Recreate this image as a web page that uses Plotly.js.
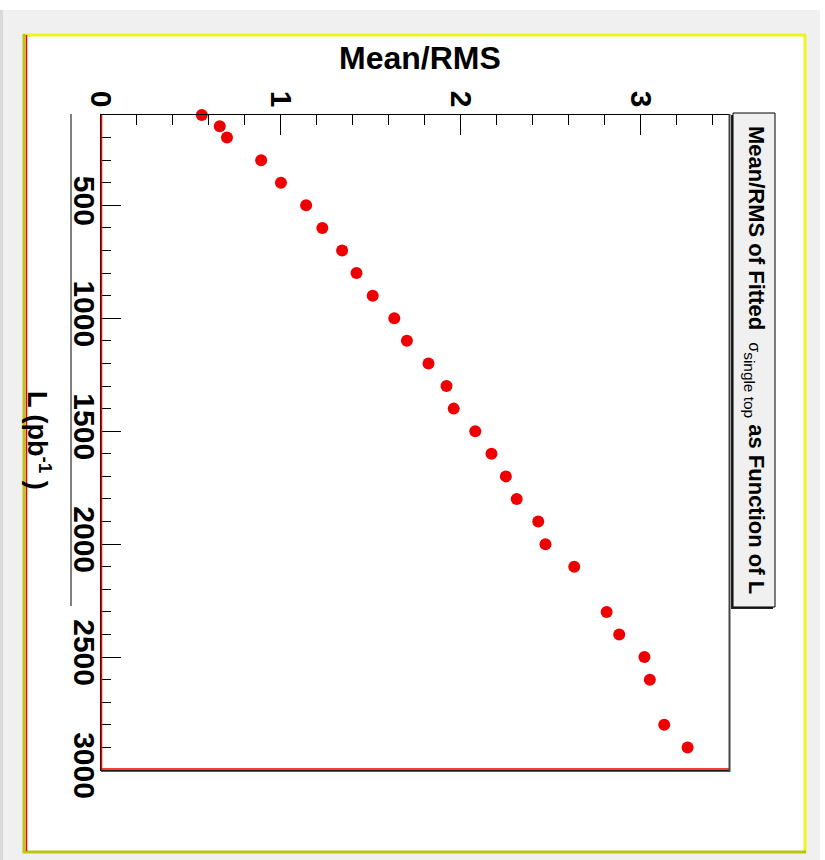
<!DOCTYPE html>
<html>
<head>
<meta charset="utf-8">
<script src="https://cdn.plot.ly/plotly-3.0.1.min.js"></script>
<style>
  html, body { margin: 0; padding: 0; background: #ffffff; }
  #chart { width: 825px; height: 860px; }
</style>
</head>
<body>
<div id="chart"></div>
<script>
// Integrated luminosity L (pb^-1) and the Mean/RMS of the fitted single-top cross section
const luminosity = [100, 150, 200, 300, 400, 500, 600, 700, 800, 900, 1000, 1100, 1200, 1300,
                    1400, 1500, 1600, 1700, 1800, 1900, 2000, 2100, 2300, 2400, 2500, 2600, 2800, 2900];
const meanOverRms = [0.56, 0.66, 0.70, 0.89, 1.00, 1.14, 1.23, 1.34, 1.42, 1.51, 1.63, 1.70, 1.82, 1.92,
                     1.96, 2.08, 2.17, 2.25, 2.31, 2.43, 2.47, 2.63, 2.81, 2.88, 3.02, 3.05, 3.13, 3.26];

const meanTicks = [0, 1, 2, 3];
const lumiTicks = [500, 1000, 1500, 2000, 2500, 3000];

// Canvas geometry (pixels) used for the frame decorations
const W = 825, H = 860;
const M = { l: 101, r: 96, t: 115, b: 90 };
const PW = W - M.l - M.r, PH = H - M.t - M.b;
const px = v => (v - M.l) / PW;          // page x pixel -> paper x
const py = v => (H - M.b - v) / PH;      // page y pixel -> paper y

const FONT = 'Liberation Sans, Arial, sans-serif';

function rect(x0, y0, x1, y1, fill, layer, line) {
  return { type: 'rect', xref: 'paper', yref: 'paper',
           x0: px(x0), x1: px(x1), y0: py(y1), y1: py(y0),
           fillcolor: fill, line: line || { width: 0 }, layer: layer || 'below' };
}
function seg(x0, y0, x1, y1, color, width, layer) {
  return { type: 'line', xref: 'paper', yref: 'paper',
           x0: px(x0), x1: px(x1), y0: py(y0), y1: py(y1),
           line: { color: color, width: width }, layer: layer || 'above' };
}

const shapes = [
  // window strips around the canvas
  rect(0, 0, W, 10, '#ffffff'),
  rect(820, 0, W, H, '#ffffff'),
  rect(0, 10, 3, H, '#d8d8d8'),
  // canvas with its bevelled yellow border
  rect(23, 34, 806, 853, '#ffffff'),
  seg(23, 35, 806, 35, '#eef51e', 3, 'below'),
  seg(805, 34, 805, 853, '#eef51e', 3, 'below'),
  seg(23, 852, 806, 852, '#b9c611', 3, 'below'),
  seg(24, 34, 24, 853, '#b9c611', 3, 'below'),
  seg(26.5, 35, 26.5, 851, '#ee0000', 1.5, 'below'),
  seg(71, 114, 71, 606, '#000000', 1, 'below'),
  // frame accents
  seg(101.5, 115, 101.5, 770, '#ee0000', 1.5),
  seg(101, 769, 729, 769, '#ee0000', 1.5),
  seg(101, 771, 730, 771, '#222222', 1.5),
  seg(729.5, 114, 729.5, 772, '#444444', 2),
  // title box with its shadow
  rect(731, 115, 773, 609, '#222222', 'above'),
  rect(733, 113, 775, 607, '#f0f0f0', 'above', { color: '#000000', width: 1 })
];

const annotations = [
  {
    xref: 'paper', yref: 'paper', x: px(755), y: py(360),
    xanchor: 'center', yanchor: 'middle', showarrow: false, textangle: 90,
    text: '<b>Mean/RMS of Fitted</b>  <span style="font-size:16px">σ</span><sub>single top</sub> <b>as Function of L</b>',
    font: { family: FONT, size: 22, color: '#000000' }
  },
  {
    xref: 'paper', yref: 'paper', x: px(420), y: py(58),
    xanchor: 'center', yanchor: 'middle', showarrow: false,
    text: '<b>Mean/RMS</b>',
    font: { family: FONT, size: 32, color: '#000000' }
  },
  {
    xref: 'paper', yref: 'paper', x: px(39), y: py(441),
    xanchor: 'center', yanchor: 'middle', showarrow: false, textangle: 90,
    text: '<b>L (pb<sup>-1</sup> )</b>',
    font: { family: FONT, size: 27, color: '#000000' }
  }
];

const trace = {
  type: 'scatter', mode: 'markers',
  x: meanOverRms, y: luminosity,
  cliponaxis: false,
  marker: { color: '#ee0000', size: 12, symbol: 'circle', line: { width: 0 } },
  hoverinfo: 'x+y'
};

const layout = {
  width: W, height: H,
  margin: M,
  paper_bgcolor: '#f0f0f0',
  plot_bgcolor: 'rgba(0,0,0,0)',
  showlegend: false,
  font: { family: FONT, color: '#000000' },
  xaxis: {
    side: 'top', range: [0, 3.49],
    tickmode: 'array', tickvals: meanTicks, ticktext: meanTicks.map(String),
    ticks: 'inside', ticklen: 20, tickwidth: 1, tickcolor: '#000000',
    minor: { dtick: 0.2, tick0: 0, ticks: 'inside', ticklen: 10, tickwidth: 1, tickcolor: '#000000', showgrid: false },
    tickangle: 90, ticklabelstandoff: -4,
    tickfont: { family: FONT, size: 30, color: '#000000', weight: 'bold' },
    showline: true, linecolor: '#000000', linewidth: 1, mirror: true,
    showgrid: false, zeroline: false
  },
  yaxis: {
    range: [3000, 100],
    tickmode: 'array', tickvals: lumiTicks, ticktext: lumiTicks.map(String),
    ticks: 'inside', ticklen: 20, tickwidth: 1, tickcolor: '#000000',
    minor: { dtick: 100, tick0: 0, ticks: 'inside', ticklen: 10, tickwidth: 1, tickcolor: '#000000', showgrid: false },
    tickangle: 90, ticklabelstandoff: -10,
    tickfont: { family: FONT, size: 30, color: '#000000', weight: 'bold' },
    showline: true, linecolor: '#000000', linewidth: 1, mirror: true,
    showgrid: false, zeroline: false
  },
  shapes: shapes,
  annotations: annotations
};

Plotly.newPlot('chart', [trace], layout, { displayModeBar: false, staticPlot: true });
</script>
</body>
</html>
